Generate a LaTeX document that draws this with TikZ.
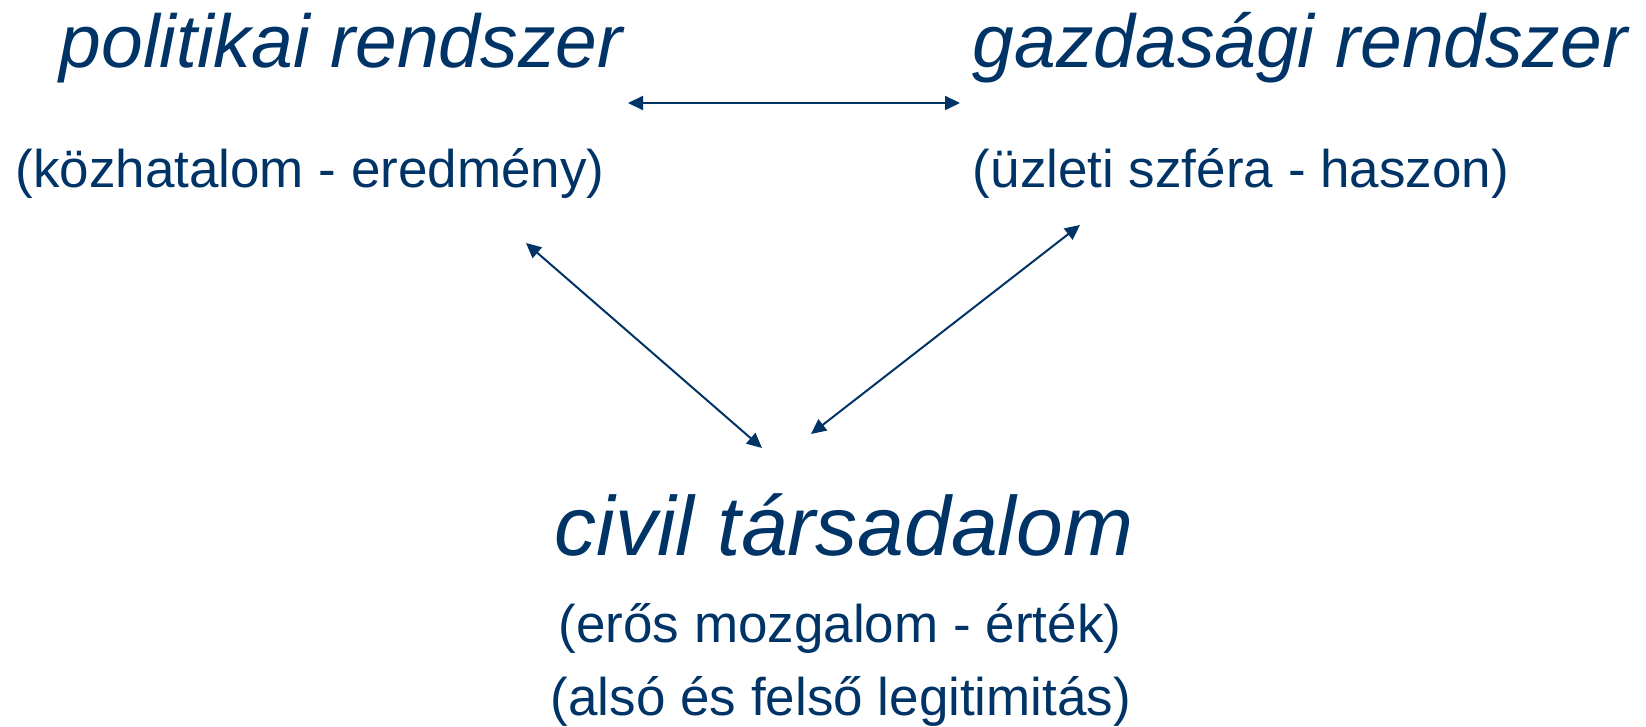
\documentclass[tikz,border=0pt]{standalone}
\usepackage{fontspec}
\setmainfont{Liberation Sans}
\usetikzlibrary{arrows.meta}
\definecolor{navy}{HTML}{003366}
\begin{document}
\begin{tikzpicture}[x=0.5pt,y=-0.5pt,
  every node/.style={inner sep=0pt,outer sep=0pt,text=navy,anchor=base},
  bigit/.style={font=\fontsize{37.5pt}{45pt}\selectfont\itshape},
  hugeit/.style={font=\fontsize{42pt}{50pt}\selectfont\itshape},
  sub/.style={font=\fontsize{26.5pt}{32pt}\selectfont},
  conn/.style={navy,line width=1pt,{Triangle[length=7.5pt,width=7pt]}-{Triangle[length=7.5pt,width=7pt]}}]
\useasboundingbox (0,0) rectangle (1646,727);
\node[bigit] (pol) at (341,68) {politikai rendszer};
\node[bigit] (gaz) at (1300,68) {gazdasági rendszer};
\node[sub] (polsub) at (310,188) {(közhatalom - eredmény)};
\node[sub] (gazsub) at (1241,188) {(üzleti szféra - haszon)};
\node[hugeit] (civ) at (844,555) {civil társadalom};
\node[sub] (civsub1) at (840,642) {(erős mozgalom - érték)};
\node[sub] (civsub2) at (841,715) {(alsó és felső legitimitás)};
\coordinate (a1) at (628,103);
\coordinate (a2) at (960,103);
\coordinate (b1) at (526,243);
\coordinate (b2) at (762,448);
\coordinate (c1) at (1080,225);
\coordinate (c2) at (811,434);
\draw[conn] (a1) -- (a2);
\draw[conn] (b1) -- (b2);
\draw[conn] (c1) -- (c2);
\end{tikzpicture}
\end{document}
